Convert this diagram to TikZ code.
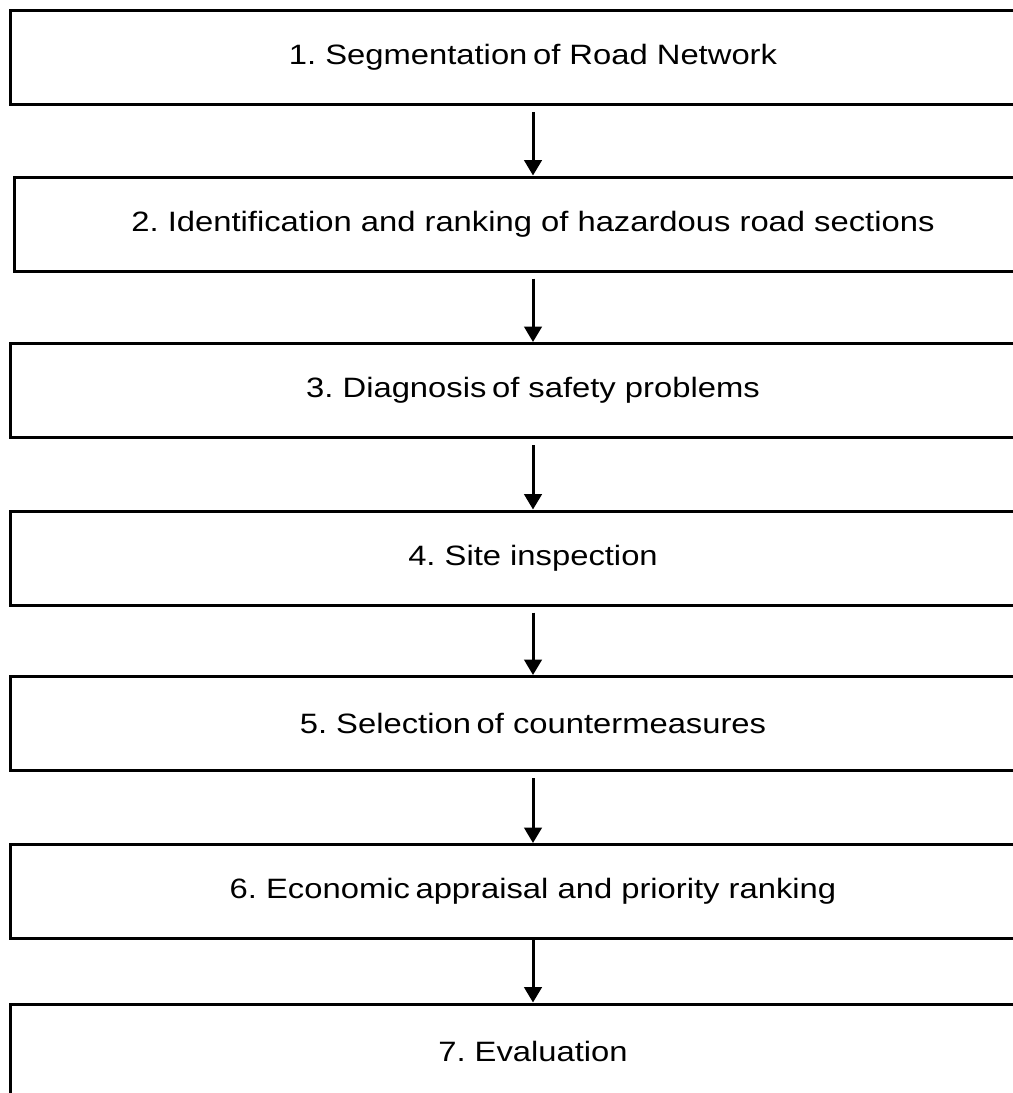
\documentclass[tikz,border=0pt]{standalone}
\usepackage{fontspec}
\setmainfont{Liberation Sans}
\newfontfamily\boxfont[FakeStretch=1.17]{Liberation Sans}
\newcommand\tsp{\hspace{0.2em}}
\usetikzlibrary{arrows.meta}
\begin{document}
\frenchspacing
\begin{tikzpicture}[x=0.75pt,y=-0.75pt,
  stepbox/.style={draw=black,line width=2.25pt,fill=white,minimum width=784.5pt,minimum height=70.5pt,inner sep=0pt,
    font=\boxfont\fontsize{21}{25}\selectfont},
  flow/.style={line width=2.25pt,-{Triangle[length=11.5pt,width=13pt]}}]
\useasboundingbox (0,0) rectangle (1013,1093);
\fill[white] (0,0) rectangle (1013,1093);
\node[stepbox] (s1) at (533,57.5) {1. Segmentation\tsp of Road Network};
\node[stepbox,minimum width=778.5pt] (s2) at (533,224) {2. Identification and ranking of hazardous road sections};
\node[stepbox] (s3) at (533,390.5) {3. Diagnosis\tsp of safety problems};
\node[stepbox] (s4) at (533,558) {4. Site inspection};
\node[stepbox] (s5) at (533,723.5) {5. Selection\tsp of countermeasures};
\node[stepbox] (s6) at (533,891.5) {6. Economic\tsp appraisal and priority ranking};
\node[stepbox] (s7) at (533,1051) {7. Evaluation};
\draw[flow,shorten <=4.5pt] (s1) -- (s2);
\draw[flow,shorten <=4.5pt] (s2) -- (s3);
\draw[flow,shorten <=4.5pt] (s3) -- (s4);
\draw[flow,shorten <=4.5pt] (s4) -- (s5);
\draw[flow,shorten <=4.5pt] (s5) -- (s6);
\draw[flow] (s6) -- (s7);
\end{tikzpicture}
\end{document}
